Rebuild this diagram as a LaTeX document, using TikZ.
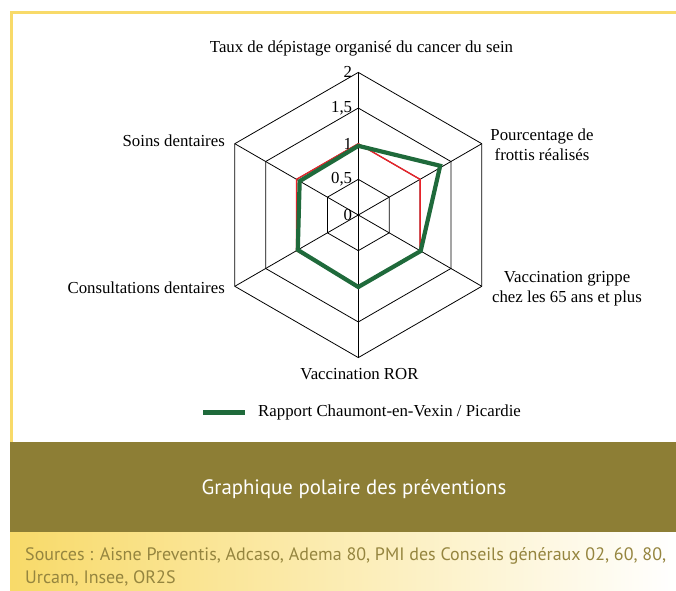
\documentclass[tikz,border=0pt]{standalone}
\usepackage{fontspec}
\setmainfont{Liberation Serif}
\newfontfamily\bandfont{PT Sans}
\usetikzlibrary{positioning}
\definecolor{framegold}{HTML}{F8DA69}
\definecolor{bandolive}{HTML}{8D7E35}
\definecolor{sourcetext}{HTML}{95853F}
\definecolor{chaumontgreen}{HTML}{1F6A3B}
\definecolor{picardiered}{HTML}{E8232A}

\begin{document}
\begin{tikzpicture}
  [x=1pt,y=1pt,font=\fontsize{16.8}{20}\selectfont,
   gridline/.style={black,line width=0.8pt},
   picardie/.style={picardiered,line width=1.4pt,line join=miter},
   chaumont/.style={chaumontgreen,line width=4.2pt,line join=miter},
   ticklabel/.style={anchor=east,inner sep=1pt,xshift=-5pt},
   axislabel/.style={inner sep=0pt,align=center},
   bandtitle/.style={white,font=\bandfont\fontsize{20.8}{24}\selectfont},
   sources/.style={sourcetext,align=left,anchor=north west,inner sep=0pt,
     font=\bandfont\fontsize{18}{23}\selectfont}]
  \useasboundingbox (0,0) rectangle (676,590);

  % frame, title band and sources
  \fill[framegold] (10,148) rectangle (13,579);
  \fill[framegold] (10,576) rectangle (676,579);
  \fill[bandolive] (10,58) rectangle (676,148);
  \shade[left color=framegold,right color=white] (10,0) rectangle (676,58);

  % radar
  \begin{scope}[shift={(358.3,375)},x=71.3pt,y=71.3pt]
    \coordinate (o) at (0,0);
    \foreach \r in {0.5,1,1.5,2}
      \draw[gridline] (90:\r) -- (30:\r) -- (-30:\r) -- (-90:\r) -- (210:\r) -- (150:\r) -- cycle;
    \foreach \a/\n in {90/1,30/2,-30/3,-90/4,210/5,150/6}
      {\coordinate (tip\n) at (\a:2);
       \draw[gridline] (o) -- (tip\n);}

    \node[ticklabel] (t0) at (90:0) {0};
    \node[ticklabel] (t1) at (90:0.5) {0,5};
    \node[ticklabel] (t2) at (90:1) {1};
    \node[ticklabel] (t3) at (90:1.5) {1,5};
    \node[ticklabel] (t4) at (90:2) {2};

    \draw[picardie] (90:1) -- (30:1) -- (-30:1) -- (-90:1) -- (210:1) -- (150:1) -- cycle;
    \draw[chaumont] (90:0.97) -- (31:1.34) -- (-30:1.01) -- (-90:1.01) -- (210:0.98) -- (150:0.95) -- cycle;
  \end{scope}

  \node[axislabel] (taux) at (361.5,542) {Taux de dépistage organisé du cancer du sein};
  \node[axislabel] (frottis) at (542,445.5) {Pourcentage de\\frottis réalisés};
  \node[axislabel] (grippe) at (567,301) {Vaccination grippe\\chez les 65 ans et plus};
  \node[axislabel] (ror) at (359.5,216) {Vaccination ROR};
  \node[axislabel,anchor=east] (consult) at (225,302) {Consultations dentaires};
  \node[axislabel,anchor=east] (soins) at (225,449) {Soins dentaires};

  % legend
  \coordinate (legA) at (203,178);
  \coordinate (legB) at (245,178);
  \draw[chaumont,line width=5pt] (legA) -- (legB);
  \node[inner sep=0pt,right=13pt of legB] (legtext) {Rapport Chaumont-en-Vexin / Picardie};

  \node[bandtitle] (title) at (354,101) {Graphique polaire des préventions};
  \node[sources] (src) at (25,43) {Sources : Aisne Preventis, Adcaso, Adema 80, PMI des Conseils généraux 02, 60, 80,\\Urcam, Insee, OR2S};
\end{tikzpicture}
\end{document}
